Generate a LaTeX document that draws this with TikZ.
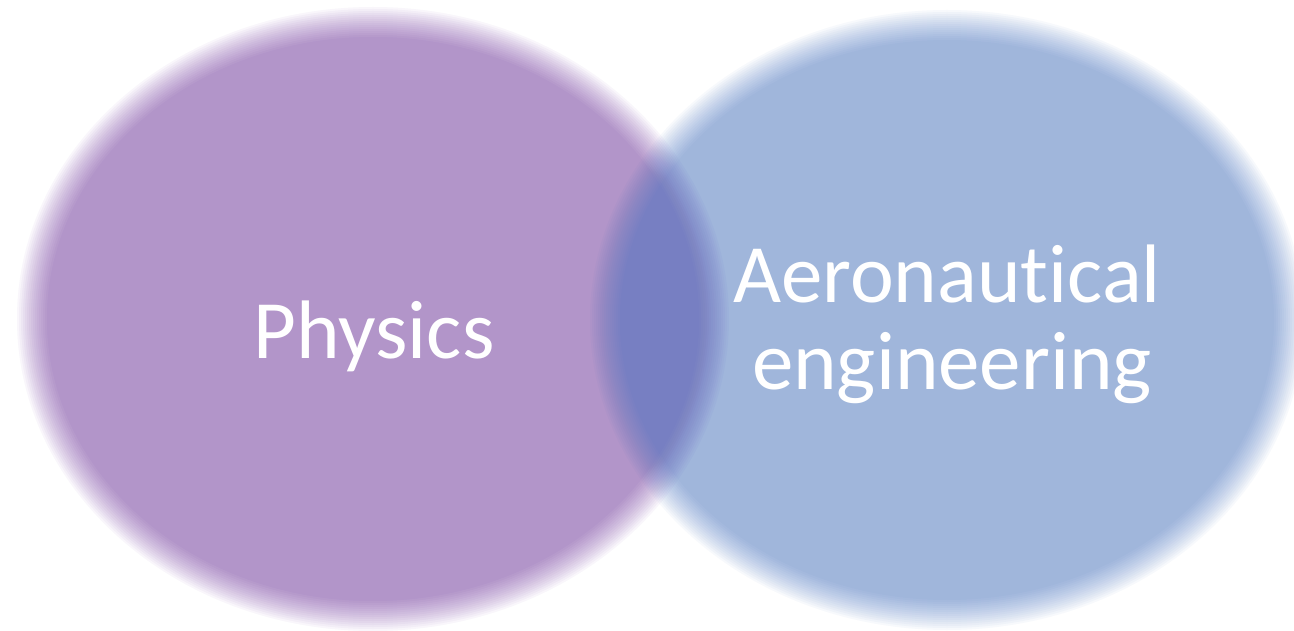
\documentclass[tikz,border=0pt]{standalone}
\usepackage{fontspec}
\setmainfont{Carlito}[Ligatures={NoCommon}]
\definecolor{purp}{RGB}{104,42,154}
\definecolor{blu}{RGB}{66,112,194}
\tikzset{
  soft/.style={fill=#1, fill opacity=0.0398},
  label/.style={text=white, font=\fontsize{83}{96}\selectfont, inner sep=0pt, anchor=base}
}
\begin{document}
\begin{tikzpicture}[x=1pt,y=-1pt]
\useasboundingbox (0,0) rectangle (1294,631);
\fill[white] (0,0) rectangle (1294,631);
\foreach \i in {0,...,15} {
  \fill[soft=purp] (373,319) ellipse [x radius={326+2*\i}, y radius={282+2*\i}];
}
\foreach \i in {0,...,15} {
  \fill[soft=blu] (947,320) ellipse [x radius={327+2*\i}, y radius={280+2*\i}];
}
\node[label] (phys) at (374,358) {Physics};
\node[label] (aero1) at (947,302) {Aeronautical};
\node[label] (aero2) at (952,389) {engineering};
\end{tikzpicture}
\end{document}
